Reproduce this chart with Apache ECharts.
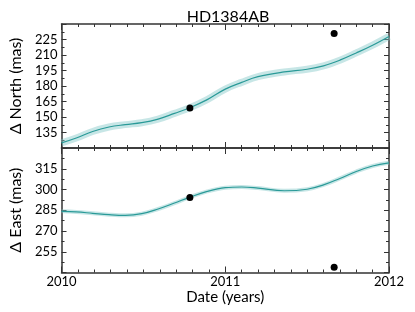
<!DOCTYPE html>
<html>
<head>
<meta charset="utf-8">
<script src="https://cdn.jsdelivr.net/npm/echarts@6/dist/echarts.min.js"></script>
<style>html,body{margin:0;padding:0;background:#fff;}#c{width:415px;height:312px;}</style>
</head>
<body>
<div id="c"></div>
<script>
var title = 'HD1384AB';
var years = [2010, 2010.09, 2010.19, 2010.29, 2010.39, 2010.49, 2010.59, 2010.69, 2010.78, 2010.89, 2011.0, 2011.1, 2011.2, 2011.36, 2011.5, 2011.6, 2011.7, 2011.8, 2011.9, 2012];
var northFit = [125, 129.7, 136, 140.3, 142.6, 144.5, 148, 153.5, 158.7, 166.8, 177, 183.5, 189, 193.6, 196.2, 199.5, 205, 212, 219.5, 228];
var eastFit = [284.2, 283.8, 282.8, 281.8, 281.3, 282.5, 285.9, 290.2, 294.3, 298.6, 301.3, 301.8, 301, 299.1, 300.2, 303.3, 308, 313, 317, 319.3];
var obsYears = [2010.784, 2011.665];
var obsNorth = [158.7, 230.8];
var obsEast = [294.3, 243.8];
var xTicks = [2010, 2011, 2012];

function pairs(xs, ys){ return xs.map(function(x,i){ return [x, ys[i]]; }); }

var FONT = 'Lato';
var axisColor = '#333';
function xAx(grid, pos, labels, name){
  return {
    type:'value', gridIndex:grid, position:pos, min:2010, max:2012, interval:1,
    axisLine:{show:true, lineStyle:{color:axisColor, width:1.5}},
    axisTick:{show:true, inside:true, length:6, lineStyle:{color:axisColor, width:1}},
    minorTick:{show:true, splitNumber:10, length:3, lineStyle:{color:axisColor, width:1}},
    splitLine:{show:false},
    axisLabel:{show:labels, margin:3, fontSize:13, color:'#000', fontFamily:FONT,
      formatter:function(v){ return String(Math.round(v)); }},
    name: name || '', nameLocation:'middle', nameGap:16,
    nameTextStyle:{fontSize:15, color:'#000', fontFamily:FONT}
  };
}
function yAx(grid, pos, min, max, labels, name){
  return {
    type:'value', gridIndex:grid, position:pos, min:min, max:max, interval:15,
    axisLine:{show:true, lineStyle:{color:axisColor, width:1.5}},
    axisTick:{show:true, inside:true, length:5, lineStyle:{color:axisColor, width:1}},
    minorTick:{show:true, splitNumber:2, length:3, lineStyle:{color:axisColor, width:1}},
    splitLine:{show:false},
    axisLabel:{show:labels, margin:4, fontSize:13, color:'#000', fontFamily:FONT,
      formatter:function(v){ return (v===min||v===max)?'':String(v); }},
    name: name || '', nameLocation:'middle', nameGap:31,
    nameTextStyle:{fontSize:16, color:'#000', fontFamily:FONT}
  };
}

var chart = echarts.init(document.getElementById('c'), null, {renderer:'canvas'});
var lineColor = '#2a9a98';
var bandColor = 'rgba(130,200,200,0.45)';
chart.setOption({
  animation:false,
  title:{text:title, left:223, top:4, textAlign:'center',
    textStyle:{fontSize:16, fontWeight:'normal', color:'#000', fontFamily:FONT}},
  grid:[
    {left:57, right:26, top:24, height:124},
    {left:57, right:26, top:148, height:124.5}
  ],
  xAxis:[
    xAx(0,'bottom',false), xAx(0,'top',false),
    xAx(1,'bottom',true,'Date (years)'), xAx(1,'top',false)
  ],
  yAxis:[
    yAx(0,'left',120,240,true,'\u0394 North (mas)'), yAx(0,'right',120,240,false),
    yAx(1,'left',240,330,true,'\u0394 East (mas)'), yAx(1,'right',240,330,false)
  ],
  series:[
    {type:'line', xAxisIndex:0, yAxisIndex:0, data:pairs(years,northFit), smooth:0.4, showSymbol:false,
      lineStyle:{color:bandColor, width:7}},
    {type:'line', xAxisIndex:0, yAxisIndex:0, data:pairs(years,northFit), smooth:0.4, showSymbol:false,
      lineStyle:{color:lineColor, width:1.2}},
    {type:'scatter', xAxisIndex:0, yAxisIndex:0, data:pairs(obsYears,obsNorth), symbolSize:7, z:5,
      itemStyle:{color:'#000', opacity:1}},
    {type:'line', xAxisIndex:2, yAxisIndex:2, data:pairs(years,eastFit), smooth:0.4, showSymbol:false,
      lineStyle:{color:bandColor, width:4}},
    {type:'line', xAxisIndex:2, yAxisIndex:2, data:pairs(years,eastFit), smooth:0.4, showSymbol:false,
      lineStyle:{color:lineColor, width:1.2}},
    {type:'scatter', xAxisIndex:2, yAxisIndex:2, data:pairs(obsYears,obsEast), symbolSize:7, z:5,
      itemStyle:{color:'#000', opacity:1}}
  ]
});
</script>
</body>
</html>
